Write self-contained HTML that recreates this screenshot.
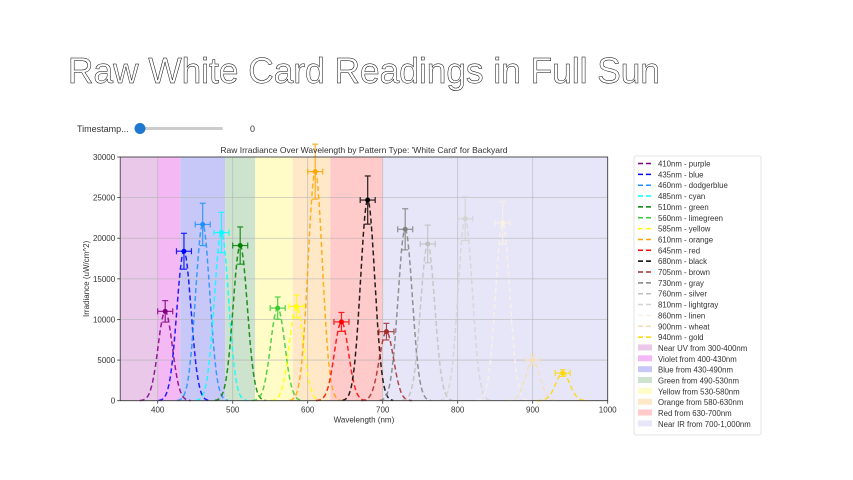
<!DOCTYPE html>
<html><head><meta charset="utf-8"><style>
body{margin:0;background:#fff;}
svg{display:block;font-family:"Liberation Sans",sans-serif;}
</style></head><body>
<svg width="853" height="480" viewBox="0 0 853 480">
<text x="68" y="83" font-size="36" fill="#fff" stroke="#000" stroke-width="0.5" textLength="592" lengthAdjust="spacingAndGlyphs">Raw White Card Readings in Full Sun</text>
<g>
<text x="77" y="132" font-size="9" fill="#333">Timestamp...</text>
<rect x="140" y="127" width="83" height="3" rx="1.5" fill="#ccc"/>
<circle cx="140" cy="128.5" r="5.5" fill="#1f77d0"/>
<text x="250" y="132" font-size="9" fill="#333">0</text>
</g>
<g id="plot"></g>
<g id="legend"></g>
</svg>
<script>
const wavelengths=[410,435,460,485,510,560,585,610,645,680,705,730,760,810,860,900,940];
const peaks=[11000,18400,21700,20700,19100,11400,11600,28200,9700,24700,8500,21100,19300,22400,21900,5000,3400];
const colorNames=["purple","blue","dodgerblue","cyan","green","limegreen","yellow","orange","red","black","brown","gray","silver","lightgray","linen","wheat","gold"];
const colorHex=["#800080","#0000ff","#1e90ff","#00ffff","#008000","#32cd32","#ffff00","#ffa500","#ff0000","#000000","#a52a2a","#808080","#c0c0c0","#d3d3d3","#faf0e6","#f5deb3","#ffd700"];
const bandLabels=["Near UV from 300-400nm","Violet from 400-430nm","Blue from 430-490nm","Green from 490-530nm","Yellow from 530-580nm","Orange from 580-630nm","Red from 630-700nm","Near IR from 700-1,000nm"];
const bandStart=[300,400,430,490,530,580,630,700];
const bandEnd=[400,430,490,530,580,630,700,1000];
const bandColor=["#e9c8e9","#f4b8f4","#c8c8f8","#cde3cd","#fffcc8","#ffe8c8","#ffcaca","#e6e6f8"];
const xTicks=[400,500,600,700,800,900,1000];
const yTicks=[0,5000,10000,15000,20000,25000,30000];

const NS="http://www.w3.org/2000/svg";
const L=120.2,R=607.7,T=157,B=400.7;
const xmin=350,xmax=1000,ymin=0,ymax=30000;
const X=v=>L+(v-xmin)/(xmax-xmin)*(R-L);
const Y=v=>B-(v-ymin)/(ymax-ymin)*(B-T);
function el(tag,attrs,parent){const e=document.createElementNS(NS,tag);for(const k in attrs)e.setAttribute(k,attrs[k]);parent.appendChild(e);return e;}
const plot=document.getElementById('plot');
const leg=document.getElementById('legend');

bandStart.forEach((s,i)=>{
 const x0=X(Math.max(s,xmin)),x1=X(Math.min(bandEnd[i],xmax));
 const r=el('rect',{x:x0,y:T,width:x1-x0,height:B-T,fill:bandColor[i]},plot);
 
 
});
xTicks.forEach(t=>{
 const g=el('line',{x1:X(t),x2:X(t),y1:T,y2:B,stroke:'#b0b0b0','stroke-width':0.8,opacity:0.7},plot);
 
 
 el('line',{x1:X(t),x2:X(t),y1:B,y2:B+3,stroke:'#333','stroke-width':0.8},plot);
 const tx=el('text',{x:X(t),y:B+12,'font-size':8,'text-anchor':'middle',fill:'#333'},plot);
 tx.textContent=t;
 
 
});
yTicks.forEach(t=>{
 const g=el('line',{x1:L,x2:R,y1:Y(t),y2:Y(t),stroke:'#b0b0b0','stroke-width':0.8,opacity:0.7},plot);
 
 
 el('line',{x1:L-3,x2:L,y1:Y(t),y2:Y(t),stroke:'#333','stroke-width':0.8},plot);
 const tx=el('text',{x:L-5,y:Y(t)+3,'font-size':8,'text-anchor':'end',fill:'#333'},plot);
 tx.textContent=t;
 
 
});
wavelengths.forEach((w,i)=>{
 const p=peaks[i],c=colorHex[i],sig=9.5;
 let d='';
 for(let x=w-34;x<=w+34;x+=1){const v=p*Math.exp(-((x-w)**2)/(2*sig*sig));d+=(d?'L':'M')+X(x).toFixed(1)+','+Y(v).toFixed(1);}
 const path=el('path',{d:d,fill:'none',stroke:c,'stroke-width':1.5,'stroke-dasharray':'5,3',opacity:0.85},plot);
 
 
 const g=el('g',{stroke:c,'stroke-width':1.2,opacity:0.85},plot);
 
 
 const ye=p*0.12,xe=10;
 el('line',{x1:X(w),x2:X(w),y1:Y(p-ye),y2:Y(p+ye)},g);
 el('line',{x1:X(w)-3,x2:X(w)+3,y1:Y(p-ye),y2:Y(p-ye)},g);
 el('line',{x1:X(w)-3,x2:X(w)+3,y1:Y(p+ye),y2:Y(p+ye)},g);
 el('line',{x1:X(w-xe),x2:X(w+xe),y1:Y(p),y2:Y(p)},g);
 el('line',{x1:X(w-xe),x2:X(w-xe),y1:Y(p)-3,y2:Y(p)+3},g);
 el('line',{x1:X(w+xe),x2:X(w+xe),y1:Y(p)-3,y2:Y(p)+3},g);
 const m=el('circle',{cx:X(w),cy:Y(p),r:2.5,fill:c},plot);
 
 
});
const fr=el('rect',{x:L,y:T,width:R-L,height:B-T,fill:'none',stroke:'#333','stroke-width':0.8},plot);


const ct=el('text',{x:(L+R)/2,y:T-4,'font-size':8.5,'text-anchor':'middle',fill:'#333'},plot);
ct.textContent="Raw Irradiance Over Wavelength by Pattern Type: 'White Card' for Backyard";


const xt=el('text',{x:(L+R)/2,y:B+22,'font-size':8,'text-anchor':'middle',fill:'#333'},plot);
xt.textContent='Wavelength (nm)';


const yt=el('text',{x:0,y:0,'font-size':8,'text-anchor':'middle',fill:'#333',transform:'translate(89,'+((T+B)/2)+') rotate(-90)'},plot);
yt.textContent='Irradiance (uW/cm^2)';



const lb=el('rect',{x:634,y:156,width:127,height:279,fill:'#fff',stroke:'#ddd','stroke-width':0.8,rx:2},leg);


const step=10.85;let ly=163.5;
wavelengths.forEach((w,i)=>{
 const g=el('g',{},leg);
 
 
 el('line',{x1:638,x2:652,y1:ly,y2:ly,stroke:colorHex[i],'stroke-width':1.5,'stroke-dasharray':'5,3'},g);
 const t=el('text',{x:658,y:ly+3,'font-size':7.8,fill:'#333'},g);
 t.textContent=w+'nm - '+colorNames[i];
 ly+=step;
});
bandLabels.forEach((b,i)=>{
 const g=el('g',{},leg);
 
 
 el('rect',{x:638,y:ly-3.5,width:14,height:6,fill:bandColor[i]},g);
 const t=el('text',{x:658,y:ly+3,'font-size':7.8,fill:'#333'},g);
 t.textContent=b;
 ly+=step;
});
</script>
</body></html>
